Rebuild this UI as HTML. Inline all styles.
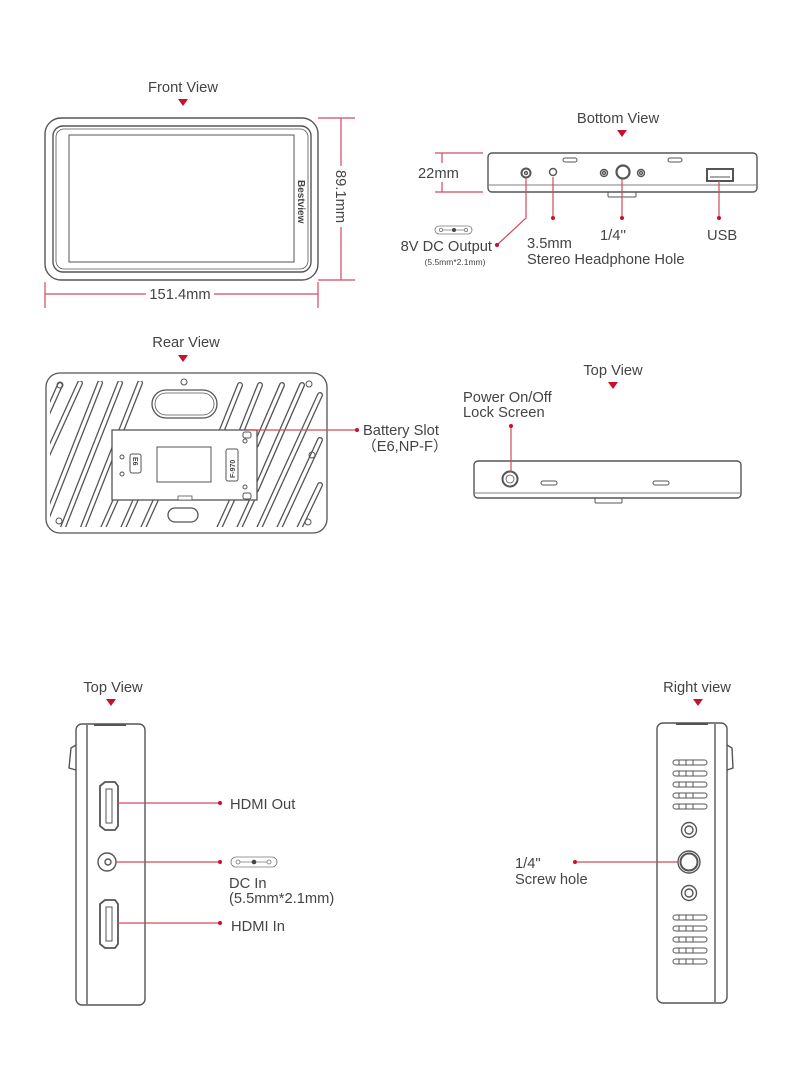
<!DOCTYPE html>
<html><head><meta charset="utf-8"><style>
html,body{margin:0;padding:0;background:#fff;}
svg{display:block;font-family:"Liberation Sans",sans-serif;font-size:14.7px;}
text{fill:#444;}
</style></head><body>
<svg width="790" height="1087" viewBox="0 0 790 1087" xmlns="http://www.w3.org/2000/svg">
<defs>
<clipPath id="rc"><rect x="50" y="377" width="273" height="152" rx="11"/></clipPath>
</defs>
<g fill="none" stroke="#555" stroke-width="1.4">
<rect x="45" y="118" width="273" height="162" rx="16"/>
<rect x="53" y="126" width="258" height="146" rx="10"/>
<rect x="56" y="129" width="252" height="140" rx="8" stroke-width="0.8"/>
<rect x="69" y="135" width="225" height="127" stroke-width="1"/>
</g>
<text x="0" y="0" transform="translate(298,180) rotate(90)" font-size="10" font-weight="bold">Bestview</text>
<polygon points="178,99 188,99 183,106" fill="#c8102e"/>
<text x="183" y="92" text-anchor="middle">Front View</text>
<g stroke="#d24a5a" stroke-width="1.2" fill="none">
<line x1="318" y1="118" x2="355" y2="118"/><line x1="318" y1="280" x2="355" y2="280"/>
<line x1="341" y1="118" x2="341" y2="166"/><line x1="341" y1="227" x2="341" y2="280"/>
<line x1="45" y1="282" x2="45" y2="308"/><line x1="318" y1="282" x2="318" y2="308"/>
<line x1="45" y1="294" x2="146" y2="294"/><line x1="214" y1="294" x2="318" y2="294"/>
</g>
<text x="0" y="0" transform="translate(336,170) rotate(90)">89.1mm</text>
<text x="180" y="299" text-anchor="middle">151.4mm</text>

<text x="618" y="123" text-anchor="middle">Bottom View</text>
<polygon points="617,130 627,130 622,137" fill="#c8102e"/>
<g fill="none" stroke="#555" stroke-width="1.4">
<rect x="488" y="153" width="269" height="39" rx="4"/>
<line x1="489" y1="185" x2="756" y2="185" stroke-width="0.8"/>
<rect x="608" y="192" width="28" height="5" rx="1" stroke-width="1"/>
<rect x="563" y="158" width="14" height="4" rx="2" stroke-width="1"/>
<rect x="668" y="158" width="14" height="4" rx="2" stroke-width="1"/>
<circle cx="526" cy="173" r="4.5" stroke-width="2"/><circle cx="526" cy="173" r="1.5"/>
<circle cx="553" cy="172" r="3.5"/>
<circle cx="623" cy="172" r="6.5" stroke-width="2.2"/>
<circle cx="604" cy="173" r="3.5"/><circle cx="604" cy="173" r="1.5"/>
<circle cx="641" cy="173" r="3.5"/><circle cx="641" cy="173" r="1.5"/>
<rect x="707" y="169" width="26" height="12" stroke-width="2"/>
<line x1="710" y1="177" x2="730" y2="177" stroke-width="1"/>
</g>
<g stroke="#d24a5a" stroke-width="1.2" fill="none">
<line x1="435" y1="153" x2="483" y2="153"/><line x1="435" y1="192" x2="483" y2="192"/>
<line x1="442" y1="153" x2="442" y2="163"/><line x1="442" y1="182" x2="442" y2="192"/>
<polyline points="526,178 526,218 497,245"/>
<line x1="553" y1="177" x2="553" y2="218"/>
<line x1="622" y1="179" x2="622" y2="218"/>
<line x1="719" y1="181" x2="719" y2="218"/>
</g>
<g fill="#c8102e"><circle cx="497" cy="245" r="2"/><circle cx="553" cy="218" r="2"/><circle cx="622" cy="218" r="2"/><circle cx="719" cy="218" r="2"/></g>
<text x="418" y="178">22mm</text>
<g fill="none" stroke="#777" stroke-width="0.8"><rect x="435" y="226" width="37" height="8" rx="4"/><circle cx="441" cy="230" r="1.6"/><circle cx="466" cy="230" r="1.6"/><line x1="443" y1="230" x2="464" y2="230"/></g>
<circle cx="454" cy="230" r="2" fill="#444"/>
<text x="492" y="251" text-anchor="end">8V DC Output</text>
<text x="455" y="265" text-anchor="middle" font-size="8.5">(5.5mm*2.1mm)</text>
<text x="527" y="248">3.5mm</text>
<text x="527" y="264">Stereo Headphone Hole</text>
<text x="600" y="240">1/4''</text>
<text x="707" y="240">USB</text>

<text x="186" y="347" text-anchor="middle">Rear View</text>
<polygon points="178,355 188,355 183,362" fill="#c8102e"/>
<g clip-path="url(#rc)" stroke-linecap="round">
<g stroke="#555" stroke-width="6">
<line x1="22" y1="470" x2="60" y2="385"/><line x1="20" y1="515" x2="80" y2="383"/><line x1="40" y1="535" x2="100" y2="383"/><line x1="60" y1="535" x2="120" y2="383"/><line x1="80" y1="535" x2="140" y2="383"/><line x1="100" y1="535" x2="120" y2="490"/><line x1="120" y1="535" x2="140" y2="490"/><line x1="140" y1="535" x2="158" y2="495"/>
<line x1="216" y1="535" x2="232" y2="500"/><line x1="236" y1="535" x2="252" y2="500"/><line x1="256" y1="535" x2="320" y2="395"/><line x1="276" y1="535" x2="320" y2="440"/><line x1="296" y1="535" x2="320" y2="485"/>
<line x1="222" y1="430" x2="240" y2="385"/><line x1="242" y1="430" x2="260" y2="385"/><line x1="256" y1="445" x2="282" y2="385"/><line x1="256" y1="490" x2="302" y2="385"/>
</g>
<g stroke="#fff" stroke-width="3.4">
<line x1="22" y1="470" x2="60" y2="385"/><line x1="20" y1="515" x2="80" y2="383"/><line x1="40" y1="535" x2="100" y2="383"/><line x1="60" y1="535" x2="120" y2="383"/><line x1="80" y1="535" x2="140" y2="383"/><line x1="100" y1="535" x2="120" y2="490"/><line x1="120" y1="535" x2="140" y2="490"/><line x1="140" y1="535" x2="158" y2="495"/>
<line x1="216" y1="535" x2="232" y2="500"/><line x1="236" y1="535" x2="252" y2="500"/><line x1="256" y1="535" x2="320" y2="395"/><line x1="276" y1="535" x2="320" y2="440"/><line x1="296" y1="535" x2="320" y2="485"/>
<line x1="222" y1="430" x2="240" y2="385"/><line x1="242" y1="430" x2="260" y2="385"/><line x1="256" y1="445" x2="282" y2="385"/><line x1="256" y1="490" x2="302" y2="385"/>
</g>
</g>
<rect x="44" y="527" width="285" height="10" fill="#fff"/>
<rect x="44" y="373" width="285" height="8" fill="#fff"/>
<g fill="#fff" stroke="#555" stroke-width="1.3">
<rect x="46" y="373" width="281" height="160" rx="14" fill="none"/>
<rect x="112" y="430" width="145" height="70"/>
<rect x="152" y="390" width="65" height="28" rx="14"/>
<rect x="155" y="393" width="59" height="22" rx="11" fill="none" stroke-width="0.8"/>
<rect x="168" y="508" width="30" height="14" rx="7"/>
<rect x="157" y="447" width="54" height="35" stroke-width="1"/>
<rect x="130" y="454" width="11" height="19" rx="2" stroke-width="1"/>
<rect x="226" y="449" width="12" height="32" rx="2" stroke-width="1"/>
<rect x="178" y="496" width="14" height="4" stroke-width="0.8"/>
</g>
<g fill="none" stroke="#555" stroke-width="1">
<circle cx="60" cy="385" r="3"/><circle cx="184" cy="382" r="3"/><circle cx="309" cy="384" r="3"/><circle cx="312" cy="455" r="3"/><circle cx="59" cy="521" r="3"/><circle cx="308" cy="522" r="3"/>
<circle cx="122" cy="457" r="2"/><circle cx="122" cy="474" r="2"/><circle cx="245" cy="441" r="2"/><circle cx="245" cy="487" r="2"/>
<rect x="243" y="432" width="8" height="6" rx="2"/><rect x="243" y="493" width="8" height="6" rx="2"/>
</g>
<text x="0" y="0" transform="translate(133,457) rotate(90)" font-size="7" font-weight="bold">E6</text>
<text x="0" y="0" transform="translate(235,478) rotate(-90)" font-size="7" font-weight="bold">F-970</text>
<line x1="248" y1="430" x2="357" y2="430" stroke="#d24a5a" stroke-width="1.2"/>
<circle cx="357" cy="430" r="2" fill="#c8102e"/>
<text x="363" y="435">Battery Slot</text>
<text x="362" y="451">（E6,NP-F）</text>

<text x="613" y="375" text-anchor="middle">Top View</text>
<polygon points="608,382 618,382 613,389" fill="#c8102e"/>
<g fill="none" stroke="#555" stroke-width="1.4">
<rect x="474" y="461" width="267" height="37" rx="4"/>
<line x1="475" y1="493" x2="740" y2="493" stroke-width="0.8"/>
<rect x="595" y="498" width="27" height="5" rx="1" stroke-width="1"/>
<circle cx="510" cy="479" r="7.5" stroke-width="2"/><circle cx="510" cy="479" r="4" stroke-width="0.8"/>
<rect x="541" y="481" width="16" height="4" rx="2" stroke-width="1"/>
<rect x="653" y="481" width="16" height="4" rx="2" stroke-width="1"/>
</g>
<line x1="511" y1="426" x2="511" y2="472" stroke="#d24a5a" stroke-width="1.2"/>
<circle cx="511" cy="426" r="2" fill="#c8102e"/>
<text x="463" y="402">Power On/Off</text>
<text x="463" y="417">Lock Screen</text>

<text x="113" y="692" text-anchor="middle">Top View</text>
<polygon points="106,699 116,699 111,706" fill="#c8102e"/>
<g fill="none" stroke="#555" stroke-width="1.4">
<rect x="76" y="724" width="69" height="281" rx="6"/>
<line x1="87" y1="725" x2="87" y2="1004"/>
<line x1="94" y1="725" x2="126" y2="725" stroke-width="2"/>
<path d="M76,745 L71,748 L69,768 L76,770"/>
<path d="M100,786 L105,782 L115,782 L118,786 L118,826 L115,830 L105,830 L100,826 Z" stroke-width="1.8"/>
<rect x="106" y="789" width="6" height="34" stroke-width="1"/>
<path d="M100,904 L105,900 L115,900 L118,904 L118,944 L115,948 L105,948 L100,944 Z" stroke-width="1.8"/>
<rect x="106" y="907" width="6" height="34" stroke-width="1"/>
<circle cx="107" cy="862" r="9"/><circle cx="108" cy="862" r="3"/>
</g>
<g stroke="#d24a5a" stroke-width="1.2"><line x1="118" y1="803" x2="220" y2="803"/><line x1="115" y1="862" x2="220" y2="862"/><line x1="118" y1="923" x2="220" y2="923"/></g>
<g fill="#c8102e"><circle cx="220" cy="803" r="2"/><circle cx="220" cy="862" r="2"/><circle cx="220" cy="923" r="2"/></g>
<g fill="none" stroke="#777" stroke-width="0.8"><rect x="231" y="857" width="46" height="10" rx="5"/><circle cx="238" cy="862" r="2"/><circle cx="269" cy="862" r="2"/><line x1="240" y1="862" x2="267" y2="862"/></g>
<circle cx="254" cy="862" r="2.3" fill="#444"/>
<text x="230" y="809">HDMI Out</text>
<text x="229" y="888">DC In</text>
<text x="229" y="903">(5.5mm*2.1mm)</text>
<text x="231" y="931">HDMI In</text>

<text x="697" y="692" text-anchor="middle">Right view</text>
<polygon points="693,699 703,699 698,706" fill="#c8102e"/>
<g fill="none" stroke="#555" stroke-width="1.4">
<rect x="657" y="723" width="70" height="280" rx="6"/>
<line x1="715" y1="724" x2="715" y2="1002"/>
<line x1="676" y1="724" x2="708" y2="724" stroke-width="2"/>
<path d="M727,745 L732,748 L733,768 L727,770"/>
<circle cx="689" cy="830" r="7.5"/><circle cx="689" cy="830" r="4"/>
<circle cx="689" cy="862" r="11"/><circle cx="689" cy="862" r="8.5" stroke-width="2"/>
<circle cx="689" cy="893" r="7.5"/><circle cx="689" cy="893" r="4"/>
</g>
<g fill="none" stroke="#555" stroke-width="1">
<g id="v"><rect x="673" y="760" width="34" height="5" rx="2.5"/><line x1="679" y1="760" x2="679" y2="765"/><line x1="686" y1="760" x2="686" y2="765"/><line x1="693" y1="760" x2="693" y2="765"/></g>
<use href="#v" y="11"/><use href="#v" y="22"/><use href="#v" y="33"/><use href="#v" y="44"/>
<use href="#v" y="155"/><use href="#v" y="166"/><use href="#v" y="177"/><use href="#v" y="188"/><use href="#v" y="199"/>
</g>
<line x1="575" y1="862" x2="678" y2="862" stroke="#d24a5a" stroke-width="1.2"/>
<circle cx="575" cy="862" r="2" fill="#c8102e"/>
<text x="515" y="868">1/4"</text>
<text x="515" y="884">Screw hole</text>
</svg>
</body></html>
